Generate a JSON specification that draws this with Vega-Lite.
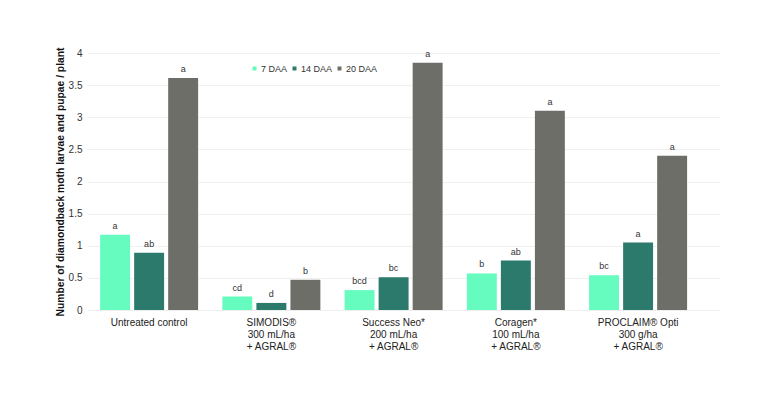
{
  "$schema": "https://vega.github.io/schema/vega-lite/v6.json",
  "width": 632,
  "height": 257,
  "autosize": "none",
  "padding": {"left": 88, "top": 53, "right": 48, "bottom": 86},
  "background": "white",
  "config": {
    "font": "Liberation Sans",
    "view": {"stroke": null}
  },
  "data": {
    "values": [
      {"treatment": "Untreated control", "timing": "7 DAA", "value": 1.17, "letter": "a"},
      {"treatment": "Untreated control", "timing": "14 DAA", "value": 0.89, "letter": "ab"},
      {"treatment": "Untreated control", "timing": "20 DAA", "value": 3.61, "letter": "a"},
      {"treatment": "SIMODIS®|300 mL/ha|+ AGRAL®", "timing": "7 DAA", "value": 0.21, "letter": "cd"},
      {"treatment": "SIMODIS®|300 mL/ha|+ AGRAL®", "timing": "14 DAA", "value": 0.11, "letter": "d"},
      {"treatment": "SIMODIS®|300 mL/ha|+ AGRAL®", "timing": "20 DAA", "value": 0.47, "letter": "b"},
      {"treatment": "Success Neo*|200 mL/ha|+ AGRAL®", "timing": "7 DAA", "value": 0.31, "letter": "bcd"},
      {"treatment": "Success Neo*|200 mL/ha|+ AGRAL®", "timing": "14 DAA", "value": 0.51, "letter": "bc"},
      {"treatment": "Success Neo*|200 mL/ha|+ AGRAL®", "timing": "20 DAA", "value": 3.85, "letter": "a"},
      {"treatment": "Coragen*|100 mL/ha|+ AGRAL®", "timing": "7 DAA", "value": 0.57, "letter": "b"},
      {"treatment": "Coragen*|100 mL/ha|+ AGRAL®", "timing": "14 DAA", "value": 0.77, "letter": "ab"},
      {"treatment": "Coragen*|100 mL/ha|+ AGRAL®", "timing": "20 DAA", "value": 3.1, "letter": "a"},
      {"treatment": "PROCLAIM® Opti|300 g/ha|+ AGRAL®", "timing": "7 DAA", "value": 0.54, "letter": "bc"},
      {"treatment": "PROCLAIM® Opti|300 g/ha|+ AGRAL®", "timing": "14 DAA", "value": 1.05, "letter": "a"},
      {"treatment": "PROCLAIM® Opti|300 g/ha|+ AGRAL®", "timing": "20 DAA", "value": 2.4, "letter": "a"}
    ]
  },
  "encoding": {
    "x": {
      "field": "treatment",
      "type": "nominal",
      "sort": null,
      "scale": {"paddingInner": 0, "paddingOuter": 0.085, "align": 0},
      "axis": {
        "title": null,
        "labelAngle": 0,
        "labelExpr": "split(datum.label, '|')",
        "labelFontSize": 10,
        "labelColor": "#222222",
        "labelLineHeight": 12,
        "labelPadding": 7,
        "ticks": false,
        "domainColor": "#eeeeee",
        "labelLimit": 200
      }
    },
    "xOffset": {
      "field": "timing",
      "type": "nominal",
      "sort": ["7 DAA", "14 DAA", "20 DAA"],
      "scale": {"paddingInner": 0.12, "paddingOuter": 0.356}
    },
    "y": {
      "field": "value",
      "type": "quantitative",
      "scale": {"domain": [0, 4]},
      "axis": {
        "title": "Number of diamondback moth larvae and pupae / plant",
        "titleFontSize": 10.3,
        "titleFontWeight": "bold",
        "titleColor": "#111111",
        "titlePadding": 3,
        "values": [0, 0.5, 1, 1.5, 2, 2.5, 3, 3.5, 4],
        "format": "~g",
        "labelFontSize": 10,
        "labelColor": "#333333",
        "labelPadding": 6,
        "ticks": false,
        "domain": false,
        "gridColor": "#f0f0f0"
      }
    }
  },
  "layer": [
    {
      "mark": {"type": "bar"},
      "encoding": {
        "color": {
          "field": "timing",
          "type": "nominal",
          "sort": ["7 DAA", "14 DAA", "20 DAA"],
          "scale": {"domain": ["7 DAA", "14 DAA", "20 DAA"], "range": ["#66FCC0", "#2B7A6B", "#6E6E68"]},
          "legend": {
            "title": null,
            "orient": "none",
            "direction": "horizontal",
            "legendX": 162,
            "legendY": 11,
            "gridAlign": "none",
            "symbolType": "square",
            "symbolSize": 16,
            "symbolStrokeWidth": 0,
            "labelFontSize": 9,
            "labelColor": "#333333",
            "labelOffset": 2,
            "columnPadding": 2,
            "padding": 0
          }
        }
      }
    },
    {
      "mark": {"type": "text", "baseline": "bottom", "dy": -4, "fontSize": 9, "color": "#333333"},
      "encoding": {
        "text": {"field": "letter"}
      }
    }
  ]
}
